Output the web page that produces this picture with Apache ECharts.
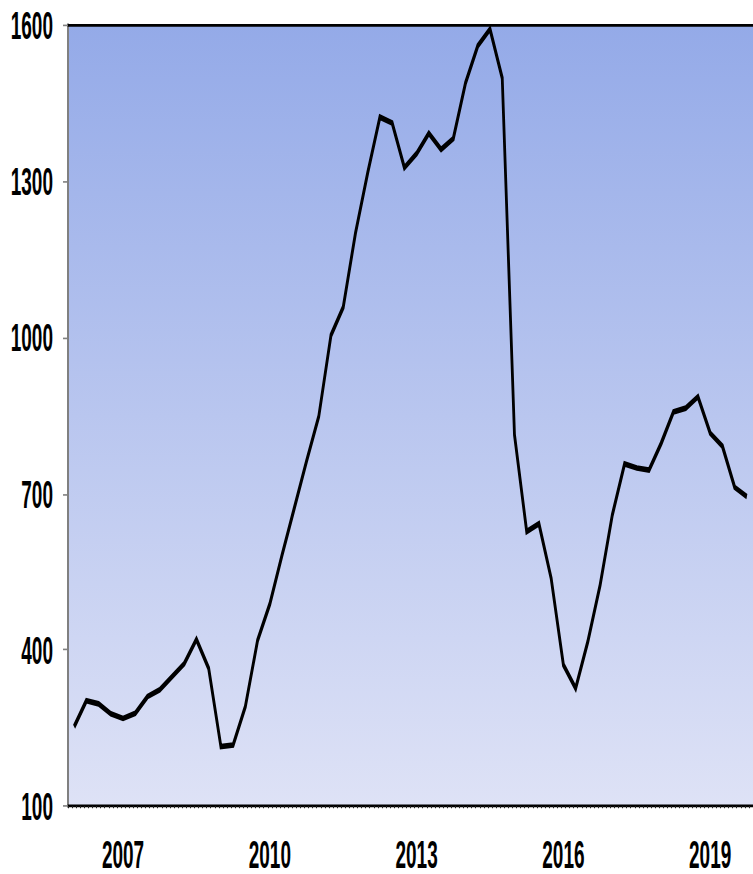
<!DOCTYPE html>
<html>
<head>
<meta charset="utf-8">
<script src="https://cdn.jsdelivr.net/npm/echarts@6/dist/echarts.min.js"></script>
<style>
  html, body { margin: 0; padding: 0; background: #ffffff; overflow: hidden; }
  #wrap { width: 753px; height: 874px; position: relative; overflow: hidden; }
  /* The reference has tall, narrow lettering: draw at 753x430 and stretch vertically */
  #chart { width: 753px; height: 430px; transform-origin: 0 0; transform: scaleY(2.0326); }
</style>
</head>
<body>
<div id="wrap"><div id="chart"></div></div>
<script>
// ---- data (quarterly, 2006 Q1 .. 2019 Q4) ----
const categories = [
  '2006 Q1','2006 Q2','2006 Q3','2006 Q4',
  '2007 Q1','2007 Q2','2007 Q3','2007 Q4',
  '2008 Q1','2008 Q2','2008 Q3','2008 Q4',
  '2009 Q1','2009 Q2','2009 Q3','2009 Q4',
  '2010 Q1','2010 Q2','2010 Q3','2010 Q4',
  '2011 Q1','2011 Q2','2011 Q3','2011 Q4',
  '2012 Q1','2012 Q2','2012 Q3','2012 Q4',
  '2013 Q1','2013 Q2','2013 Q3','2013 Q4',
  '2014 Q1','2014 Q2','2014 Q3','2014 Q4',
  '2015 Q1','2015 Q2','2015 Q3','2015 Q4',
  '2016 Q1','2016 Q2','2016 Q3','2016 Q4',
  '2017 Q1','2017 Q2','2017 Q3','2017 Q4',
  '2018 Q1','2018 Q2','2018 Q3','2018 Q4',
  '2019 Q1','2019 Q2','2019 Q3','2019 Q4'
];
const values = [
  252, 302, 296, 277,
  268, 278, 310, 323,
  348, 373, 420, 364,
  214, 217, 291, 418,
  488, 582, 672, 762,
  848, 1004, 1058, 1200,
  1316, 1423, 1412, 1326,
  1353, 1392, 1361, 1382,
  1489, 1560, 1592, 1498,
  813, 627, 642, 537,
  371, 326, 416, 524,
  659, 757, 749, 745,
  797, 857, 864, 886,
  816, 791, 712, 694
];
const xTickLabels = ['2007', '2010', '2013', '2016', '2019'];
const yTicks = [100, 400, 700, 1000, 1300, 1600];
const monthsPerQuarter = 3;

const labelFont = {
  fontFamily: "'Liberation Sans', Arial, sans-serif",
  fontWeight: 'bold',
  fontSize: 19,
  lineHeight: 17,
  color: '#000000'
};

const chart = echarts.init(document.getElementById('chart'), null, { renderer: 'svg' });
chart.setOption({
  animation: false,
  backgroundColor: '#ffffff',
  grid: {
    left: 68, right: -5, top: 12.3, bottom: 33.5,
    show: true,
    borderWidth: 0,
    backgroundColor: {
      type: 'linear', x: 0, y: 0, x2: 0, y2: 1,
      colorStops: [
        { offset: 0, color: '#94AAE8' },
        { offset: 1, color: '#DEE2F6' }
      ]
    }
  },
  xAxis: [
    {
      type: 'category',
      data: categories,
      boundaryGap: true,
      position: 'bottom',
      axisLine: { show: true, lineStyle: { color: '#000000', width: 1.3 } },
      axisTick: { show: false },
      splitLine: { show: false },
      axisLabel: Object.assign({
        margin: 15,
        interval: function (idx, val) {
          const parts = val.split(' ');
          return parts[1] === 'Q1' && xTickLabels.indexOf(parts[0]) >= 0;
        },
        formatter: function (val) { return val.split(' ')[0]; }
      }, labelFont)
    },
    {
      // monthly minor ticks along the bottom edge
      type: 'value',
      position: 'bottom',
      min: 0,
      max: categories.length * monthsPerQuarter,
      interval: 1,
      axisLine: { show: false },
      axisTick: { show: true, length: 1.2, lineStyle: { color: '#222222', width: 1 } },
      axisLabel: { show: false },
      splitLine: { show: false }
    },
    {
      // top frame line
      type: 'category',
      data: categories,
      position: 'top',
      axisLine: { show: true, lineStyle: { color: '#000000', width: 1.3 } },
      axisTick: { show: false },
      axisLabel: { show: false },
      splitLine: { show: false }
    }
  ],
  yAxis: {
    type: 'value',
    min: yTicks[0],
    max: yTicks[yTicks.length - 1],
    interval: yTicks[1] - yTicks[0],
    axisLine: { show: true, lineStyle: { color: '#808080', width: 2 } },
    axisTick: { show: true, inside: false, length: 5, lineStyle: { color: '#808080', width: 0.8 } },
    splitLine: { show: false },
    axisLabel: Object.assign({
      margin: 15,
      formatter: function (v) { return String(v); }
    }, labelFont)
  },
  series: [{
    type: 'line',
    xAxisIndex: 0,
    yAxisIndex: 0,
    data: values,
    showSymbol: false,
    symbol: 'none',
    lineStyle: { color: '#000000', width: 2.8, join: 'miter', miterLimit: 10 },
    z: 5
  }]
});
</script>
</body>
</html>
